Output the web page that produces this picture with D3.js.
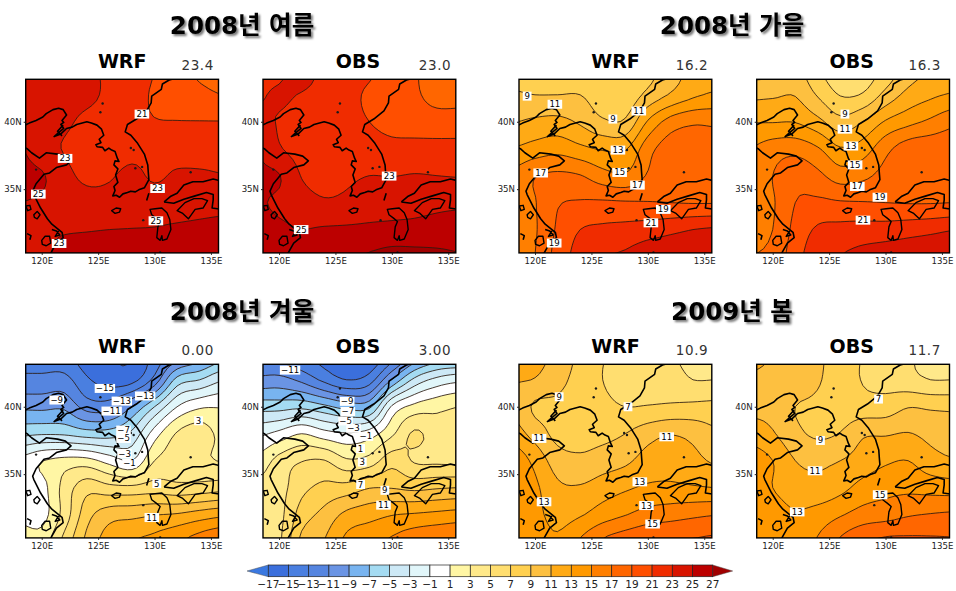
<!DOCTYPE html>
<html lang="ko">
<head>
<meta charset="utf-8">
<script src="https://cdn.jsdelivr.net/npm/d3@7"></script>
<style>
html,body{margin:0;padding:0;background:#fff}
svg{display:block}
text{font-family:"DejaVu Sans","Noto Sans CJK KR",sans-serif}
.season{font-weight:700;font-size:24.5px;fill:#000;filter:drop-shadow(2px 2px 1px #777)}
.source{font-weight:700;font-size:19px;fill:#000}
.mean{font-size:13.5px;fill:#333;letter-spacing:.6px}
.tick text{font-size:8.6px;fill:#222}
.clab{font-size:8.6px;fill:#000}
.bar text{font-size:10.5px;fill:#222}
</style>
</head>
<body>
<svg id="c" width="956" height="591"></svg>
<script>
// Grid: rows run north to south, columns west to east
const gridLons = [118,120,122,124,126,128,130,132,134,136];
const gridLats = [44,42,40,38,36,34,32,30];

const summerWRF = [
[23.8,23.7,23.5,23.3,22.7,22.0,21.0,19.8,18.6,18.4],
[23.9,23.8,23.6,23.4,22.6,21.6,20.8,20.1,19.5,19.0],
[23.8,23.6,23.3,22.6,22.2,21.6,21.1,21.05,21.05,21.05],
[25.2,23.7,22.9,22.2,22.0,22.3,22.3,22.0,22.0,22.0],
[25.5,25.2,23.6,22.6,22.8,23.5,22.7,23.3,23.3,23.1],
[25.0,24.8,24.2,23.8,23.7,24.0,24.0,24.0,24.1,24.2],
[24.8,24.8,24.85,24.9,25.0,25.05,25.1,25.3,25.5,25.7],
[24.6,24.6,25.6,25.9,26,26,26,26,26,26]];
const summerOBS = [
[22.5,22.6,24.0,22.5,22.0,21.4,20.0,19.2,18.0,18.0],
[22.8,23.2,22.9,22.3,21.6,20.7,20.1,19.3,18.4,18.4],
[23.5,22.9,22.4,22.0,21.6,21.0,20.5,20.0,19.8,19.8],
[24.9,23.2,22.3,21.9,21.8,21.7,21.5,21.7,21.7,21.7],
[25.3,25.1,22.9,22.0,22.6,23.0,22.95,23.1,23.0,22.9],
[25.2,24.7,24.0,23.3,23.5,24.0,24.2,24.3,24.5,24.6],
[25.6,25.3,25.0,25.2,25.3,25.4,25.5,25.6,25.8,26.0],
[25.8,25.6,25.6,26.2,26.8,27.2,27.7,27.6,27.4,27.1]];
const autumnWRF = [
[8.5,8.2,8,7.9,8,8,8.3,10,11.4,11.7],
[9.2,9.0,9.0,9.0,8.0,7.8,9.5,11.2,12.6,13.3],
[10.9,11.4,11.6,10.7,9.3,9.3,13.2,15.8,16.7,16.6],
[13.1,13.8,14.3,13.5,12.8,12.8,16.2,18,18,18],
[15.5,16.9,17.4,17.1,15.8,15.3,17.2,18.3,18.4,18.4],
[15.8,16.9,18.8,19.2,19.3,19.2,19.1,19.0,18.9,18.9],
[15.8,16.8,19.3,21,21.4,21.6,22,22.5,23,23.3],
[16,17,19.8,21.8,22.9,23.3,24.2,24.5,24.6,25]];
const autumnOBS = [
[8.0,8.3,9.5,7.2,5.5,5.6,7.5,9.8,11,11.4],
[10.5,10.7,10.9,8.8,6.9,7.2,9.6,11.6,12.6,13.2],
[12.9,12.9,12.9,11.6,9.7,11,13.2,14.4,15.4,16.5],
[15,16,16.3,15.2,13.2,14,16.4,18,18.3,18.2],
[15.6,17,18.3,17.5,16,16.5,17.7,18.2,18.3,18.3],
[16,16.8,19,19.4,19.2,19.1,19,18.9,18.9,19],
[16.5,17,19.6,21.3,21.6,21.8,21.9,22.2,22.5,22.9],
[17,17.5,20.2,22.2,23,23.6,24,24.3,24.6,25]];
const winterWRF = [
[-14,-14.5,-14.8,-16.3,-17,-17,-14.5,-12.5,-10.5,-8.3],
[-12.5,-12.4,-12.3,-14.7,-15.9,-15.7,-12.3,-6.3,-5,-3.2],
[-9.4,-9.5,-9.4,-11.8,-11.8,-9,-5,-1,0.7,0.9],
[-5.5,-5.2,-5.3,-6,-6,-4.5,0,3.2,4,2.4],
[-0.5,0.9,1.7,1.7,0.2,-1,3,3.9,3.4,2.9],
[0,0.3,3.7,6.2,5.6,5.5,6,5.6,5.8,6.2],
[0.3,0.2,3.8,8.2,10.1,10.4,10.9,11.2,11.9,12.5],
[2.5,2.0,5.6,9.5,12,13,13.6,14.7,16,17]];
const winterOBS = [
[-13.5,-14,-15,-16,-17,-17,-14.5,-11,-9,-8.8],
[-10.5,-10.3,-11.5,-13.5,-15,-14,-8.9,-4.5,-2.4,-1.5],
[-5.8,-5.8,-5.5,-6.5,-7.7,-7.5,-0.7,1.6,2.4,3],
[-1.5,-0.4,1,-0.2,-0.8,0,2.6,5.3,3.9,4],
[1.5,3.7,4.9,5.1,3.3,3.8,6.2,4.8,4.6,4.5],
[3.5,4.2,6.4,7.5,7.8,8.9,8.9,8.5,8.8,9],
[4,4.4,7.9,9.6,11.5,12.2,12.9,13.2,13.5,13.8],
[4,4.6,9.5,11,13.5,14.5,15.3,16.3,16.8,17.2]];
const springWRF = [
[11.8,11.7,10.5,8.5,7.1,6.4,6,5.1,4.5,4.5],
[11.1,10.9,9.6,8.3,7,6.4,6.2,5.9,5,5],
[10.8,8.7,8.6,8.2,7.5,7,7.1,7.3,7.5,7.6],
[12,10.2,8.4,8.3,8.4,9,10.2,10.9,10.4,9.4],
[14.5,12.4,10,9.4,10,10.6,11.8,12.1,11.6,10.7],
[14.8,13.4,11.4,11.2,12,12.7,13.3,13.4,13.2,13],
[14.8,13.6,12.3,12.8,14,14.9,15.8,16.2,16.6,16.9],
[14.5,14,13.3,15.2,17.2,18.2,18.9,19.1,19.2,19.4]];
const springOBS = [
[12.5,10.8,10,9.3,8.2,6.9,6.3,5.3,4.2,4.2],
[10.4,10.4,10.2,9.2,8,6.9,6.4,5.7,5,5],
[10.4,10.3,9,8.6,8,7.8,7.9,8.9,8.7,8.6],
[12.2,11.2,9.5,8.7,9.1,10.7,10.8,11.1,10.4,10],
[14,13,11,10.6,11,11.9,12.7,13,11.8,11.2],
[14,13,11.9,11.6,12.4,13.7,14.3,14.5,14.2,14],
[14.3,14,13.2,13.8,14.8,15.8,16.2,16.8,17.1,17.3],
[14.5,14.5,14,15.2,17.3,18.8,19.4,19.4,19.3,19.2]];

// Contour labels: [lon, lat, text]
const summerWRFLabels = [[128.88,40.57,"21"],[122.07,37.28,"23"],[119.7,34.63,"25"],[130.27,35.05,"23"],[130.12,32.65,"25"],[121.54,30.97,"23"]];
const summerOBSLabels = [[129.76,35.97,"23"],[121.96,32.0,"25"]];
const autumnWRFLabels = [[119.3,41.9,"9"],[121.76,41.3,"11"],[126.9,40.2,"9"],[129.2,40.8,"11"],[127.35,37.9,"13"],[127.5,36.24,"15"],[129.08,35.3,"17"],[120.5,36.2,"17"],[131.37,33.5,"19"],[130.27,32.5,"21"],[121.7,31,"19"]];
const autumnOBSLabels = [[126.4,40.57,"9"],[126.4,39.45,"11"],[126.93,38.2,"13"],[127.3,36.8,"15"],[127.5,35.2,"17"],[129.5,34.4,"19"],[128,32.7,"21"]];
const winterWRFLabels = [[121.33,40.5,"−9"],[125.6,41.36,"−15"],[127.1,40.42,"−13"],[129.17,40.8,"−13"],[126.2,39.68,"−11"],[127.25,38.27,"−7"],[127.25,37.65,"−5"],[127.34,36.53,"−3"],[127.78,35.8,"−1"],[133.9,38.96,"3"],[130.2,34.3,"5"],[129.76,31.78,"11"]];
const winterOBSLabels = [[120.98,42.72,"−11"],[126.04,40.4,"−9"],[126.1,39.65,"−7"],[125.9,38.95,"−5"],[126.6,38.4,"−3"],[127.7,37.8,"−1"],[127.23,36.9,"1"],[127.38,35.9,"3"],[127.23,34.23,"7"],[129.38,33.8,"9"],[129.26,32.7,"11"]];
const springWRFLabels = [[122.14,40.74,"9"],[128.24,40,"7"],[120.36,37.65,"11"],[131.67,37.77,"11"],[129.29,34.43,"13"],[120.8,32.95,"13"],[129.88,32.67,"13"],[130.42,31.3,"15"]];
const springOBSLabels = [[129.38,40.57,"7"],[124.23,37.5,"9"],[123.75,35.25,"11"],[122.17,32.2,"13"],[129.52,33.47,"15"]];

const levels = [-17,-15,-13,-11,-9,-7,-5,-3,-1,1,3,5,7,9,11,13,15,17,19,21,23,25,27];
const bandColors = ["#3a78e0","#3b6fdc","#4a7fe0","#5585e0","#6a94e4","#78b4f0","#a4dbf2","#cde9f6","#e1f6fa","#ffffff","#fff6a4","#ffe98a","#ffde70","#ffd050","#fdc040","#ffaa15","#ff9900","#ff7f00","#ff6600","#ff4f00","#f02c00","#d81400","#bc0000","#a00000"];
const seasonTitles = ["2008년 여름","2008년 가을","2008년 겨울","2009년 봄"];
const sourceNames = ["WRF","OBS"];
const meanLabels = ["23.4","23.0","16.2","16.3","0.00","3.00","10.9","11.7"];
const lonTicks = [120,125,130,135];
const latTicks = [35,40];

// Coastlines, [lon, lat]
const coastKorea = [[118.4,39.7],[118.9,39.9],[119.5,40.1],[120.1,40.35],[120.4,40.6],[121,40.9],[121.5,41],[121.9,40.9],[122.2,40.5],[121.8,40.1],[121.95,39.95],[121.7,39.8],[121.95,39.5],[121.5,39.2],[121.1,38.9],[121.7,39.1],[122.2,39.5],[122.7,39.6],[123.1,39.8],[124,40],[124.4,39.9],[124.9,39.75],[125.3,39.45],[125.5,39],[125.1,38.7],[125.25,38.45],[124.8,38.3],[124.9,38.15],[125.4,38.1],[125.6,37.85],[125.95,38.05],[126.2,37.9],[126.5,37.8],[126.7,37.3],[126.85,37.05],[126.5,37.1],[126.4,36.8],[126.75,36.5],[126.55,36.05],[126.75,35.5],[126.4,35.2],[126.5,34.9],[126.3,34.5],[126.6,34.55],[126.9,34.4],[127.2,34.65],[127.6,34.75],[127.9,34.85],[128.3,34.8],[128.6,34.95],[129.1,35.1],[129.5,35.7],[129.45,36.2],[129.4,36.8],[129.1,37.6],[128.5,38.4],[127.9,39],[127.4,39.25],[127.6,39.8],[128.4,40.2],[129.3,40.8],[129.7,41.4],[129.75,41.9],[130.6,42.4],[130.7,42.8],[131.3,43.1],[132.2,43.3]];
const coastChina = [[118.2,38.2],[118.7,38],[119.1,37.7],[119.8,37.3],[120.4,37.7],[121.4,37.6],[122.1,37.45],[122.6,37.1],[122.2,36.8],[121.3,36.6],[120.7,36.2],[120.2,36.1],[119.5,35.4],[119.2,34.85],[119.3,34.6],[119.9,33.6],[120.5,32.8],[120.9,32.4],[121.8,31.8],[121.9,31.4],[121.3,31],[120.9,30.4],[120.7,30.1]];
const kyushu = [[129.6,33.5],[130.05,33.55],[130.65,33.6],[131.1,33.25],[131.35,32.75],[131.45,32],[131.1,31.3],[130.7,31.2],[130.65,31.55],[130.5,31.2],[130.2,31.4],[130.3,32.2],[130.5,32.6],[130.15,32.85],[129.75,33.1]];
const honshuNorth = [[130.85,34.05],[131.4,34.45],[132,34.7],[132.6,35.3],[133.4,35.55],[134.3,35.55],[135.2,35.75],[135.9,35.6]];
const honshuSouth = [[130.85,34.05],[131.7,33.95],[132.6,34.25],[133.6,34.5],[134.6,34.75],[135.2,34.6],[135.2,34.2],[135.1,33.6],[135.9,33.5]];
const shikoku = [[132,33.4],[132.7,34],[133.5,34.3],[134.2,34.3],[134.7,34.15],[134.3,33.6],[133.6,33.5],[133,32.8],[132.5,33.2]];
const jeju = [[126.2,33.4],[126.6,33.6],[127,33.55],[126.9,33.3],[126.5,33.2]];
const lakeTai = [[120,31.2],[120.3,31.5],[120.7,31.5],[120.8,31],[120.4,30.8],[120.05,30.9]];
const lakeHongze = [[119.3,33.1],[119.6,33.35],[119.85,33.1],[119.6,32.8],[119.35,32.9]];
const lakeLeft = [[118.6,33.75],[118.95,33.8],[119.05,33.5],[118.75,33.4]];
const tsushima = [[129.3,34.15],[129.5,34.7]];
const yangtzeBars = [[120.9,32],[121.3,31.9],[121.6,31.6],[121.2,31.5],[121.5,31.9]];
const hangzhouBars = [[118.7,31.7],[119.05,31.55],[118.95,31.25]];
const bohaiBars = [[121.8,38.95],[121.4,39.3],[121.9,39.75]];
const islandDots = [[125.4,41.35],[125.2,40.7],[128.3,36.55],[128.9,36.65],[133.2,36.25],[119.5,36.45],[127.9,38.05],[128.15,37.9],[130.5,30.3],[129,32.7]];

// Table the drawing loop uses
const panelGrids = [summerWRF,summerOBS,autumnWRF,autumnOBS,winterWRF,winterOBS,springWRF,springOBS];
const panelLabels = [summerWRFLabels,summerOBSLabels,autumnWRFLabels,autumnOBSLabels,winterWRFLabels,winterOBSLabels,springWRFLabels,springOBSLabels];
const closedCoasts = [kyushu,shikoku,jeju,lakeTai,lakeHongze,lakeLeft];
const openCoasts = [coastKorea,coastChina,honshuNorth,honshuSouth,tsushima,yangtzeBars,hangzhouBars,bohaiBars];

const svg = d3.select("#c");
const panelLefts = [25.7,263,519,756.7];
const panelTops = [79.3,364.3];
const panelW = 192.8, panelH = 173.6;
const titleCenters = [242,732], titleYs = [26,312];
const lonDomain = [118.58,135.67], latDomain = [30.27,43.15];

// title rows
seasonTitles.forEach((t,i)=>{
  svg.append("text").attr("class","season").attr("text-anchor","middle")
    .attr("x",titleCenters[i%2]).attr("y",titleYs[Math.floor(i/2)]+8).text(t);
});

// Smooth contouring: the read grid is resampled (Catmull-Rom) only so that the isolines come out round
const fine = 5;
function cubic(a,b,c,d,t){return b+0.5*t*(c-a+t*(2*a-5*b+4*c-d+t*(3*(b-c)+d-a)));}
function refine(grid){
  const nr=grid.length,nc=grid[0].length,W=(nc-1)*fine+1,H=(nr-1)*fine+1,out=new Array(W*H);
  const at=(r,c)=>grid[Math.max(0,Math.min(nr-1,r))][Math.max(0,Math.min(nc-1,c))];
  for(let j=0;j<H;j++){const r=Math.floor(j/fine),tr=j/fine-r;
    for(let i=0;i<W;i++){const c=Math.floor(i/fine),tc=i/fine-c;
      const rows=[-1,0,1,2].map(k=>cubic(at(r+k,c-1),at(r+k,c),at(r+k,c+1),at(r+k,c+2),tc));
      out[j*W+i]=cubic(rows[0],rows[1],rows[2],rows[3],tr);
    }}
  return {values:out,W,H};
}
panelGrids.forEach((grid,pi)=>{
  const col = pi%4, row = Math.floor(pi/4);
  const left = panelLefts[col], top = panelTops[row];
  const x = d3.scaleLinear().domain(lonDomain).range([left,left+panelW]);
  const y = d3.scaleLinear().domain(latDomain).range([top+panelH,top]);
  const g = svg.append("g");
  const clipId = "clip"+pi;
  g.append("clipPath").attr("id",clipId).append("rect")
    .attr("x",left).attr("y",top).attr("width",panelW).attr("height",panelH);
  const inner = g.append("g").attr("clip-path",`url(#${clipId})`);
  inner.append("rect").attr("x",left).attr("y",top).attr("width",panelW).attr("height",panelH).attr("fill",bandColors[0]);

  const field = refine(grid);
  const contourGen = d3.contours().size([field.W,field.H]).smooth(true).thresholds(levels);
  const gx = d3.scaleLinear().domain([0.5,field.W-0.5]).range([gridLons[0],gridLons[gridLons.length-1]]);
  const gy = d3.scaleLinear().domain([0.5,field.H-0.5]).range([gridLats[0],gridLats[gridLats.length-1]]);
  const path = d3.line().curve(d3.curveLinearClosed);
  const toXY = p => [x(gx(p[0])), y(gy(p[1]))];
  const cs = contourGen(field.values);
  const ringPath = c => c.coordinates.map(poly=>poly.map(r=>path(r.slice(0,-1).map(toXY))).join("")).join("");
  inner.selectAll("path.band").data(cs).join("path").attr("class","band")
    .attr("d",ringPath).attr("fill",(c,i)=>bandColors[i+1]).attr("fill-rule","evenodd");
  inner.selectAll("path.iso").data(cs).join("path").attr("class","iso")
    .attr("d",ringPath).attr("fill","none").attr("stroke","#2a1a10").attr("stroke-width",0.85);

  const open = d3.line().x(d=>x(d[0])).y(d=>y(d[1]));
  inner.selectAll("path.coast").data(openCoasts).join("path").attr("class","coast")
    .attr("d",open).attr("fill","none").attr("stroke","#000").attr("stroke-width",1.6).attr("stroke-linejoin","round");
  const closed = d3.line().x(d=>x(d[0])).y(d=>y(d[1])).curve(d3.curveLinearClosed);
  inner.selectAll("path.isl").data(closedCoasts).join("path").attr("class","isl")
    .attr("d",closed).attr("fill","none").attr("stroke","#000").attr("stroke-width",1.4).attr("stroke-linejoin","round");
  inner.selectAll("circle.dot").data(islandDots).join("circle").attr("class","dot")
    .attr("cx",d=>x(d[0])).attr("cy",d=>y(d[1])).attr("r",1.2).attr("fill","#1a1a1a");

  // contour labels
  const labs = g.append("g").selectAll("g").data(panelLabels[pi]).join("g")
    .attr("transform",d=>`translate(${x(d[0])},${y(d[1])})`);
  labs.append("rect").attr("x",d=>-(d[2].length*2.9+1.5)).attr("y",-4.5)
    .attr("width",d=>2*(d[2].length*2.9+1.5)).attr("height",9).attr("fill","#fff");
  labs.append("text").attr("class","clab").attr("text-anchor","middle").attr("dy","0.35em").text(d=>d[2]);

  // frame
  g.append("rect").attr("x",left).attr("y",top).attr("width",panelW).attr("height",panelH)
    .attr("fill","none").attr("stroke","#000").attr("stroke-width",1.4);

  // axes
  const ax = g.append("g").attr("transform",`translate(0,${top+panelH})`)
    .call(d3.axisBottom(x).tickValues(lonTicks).tickFormat(d=>d+"E").tickSize(2).tickPadding(3));
  const ay = g.append("g").attr("transform",`translate(${left},0)`)
    .call(d3.axisLeft(y).tickValues(latTicks).tickFormat(d=>d+"N").tickSize(2).tickPadding(2));
  [ax,ay].forEach(a=>{a.select(".domain").remove();a.selectAll("line").attr("stroke","#222");});

  // headers
  g.append("text").attr("class","source").attr("text-anchor","middle")
    .attr("x",left+(pi%2?95:96.5)).attr("y",top-11).text(sourceNames[pi%2]);
  g.append("text").attr("class","mean").attr("text-anchor","middle")
    .attr("x",left+(col===3?168:(col===2?173:172))).attr("y",top-9).text(meanLabels[pi]);
});

// colour bar
const bar = svg.append("g").attr("class","bar");
const cx = d3.scaleLinear().domain([levels[0],levels[levels.length-1]]).range([268.3,712.7]);
const barTop = 565, barBottom = 576.7, barMid = 571;
const tipL = 247, tipR = 732.7;
bar.append("path").attr("d",d3.line()([[cx(levels[0]),barTop],[tipL,barMid],[cx(levels[0]),barBottom]])+"Z").attr("fill",bandColors[0]).attr("stroke","#555").attr("stroke-width",.5);
bar.append("path").attr("d",d3.line()([[cx(27),barTop],[tipR,barMid],[cx(27),barBottom]])+"Z").attr("fill",bandColors[bandColors.length-1]).attr("stroke","#555").attr("stroke-width",.5);
bar.selectAll("rect").data(levels.slice(0,-1)).join("rect")
  .attr("x",d=>cx(d)).attr("y",barTop).attr("width",d=>cx(d+2)-cx(d)).attr("height",barBottom-barTop)
  .attr("fill",(d,i)=>bandColors[i+1]).attr("stroke","#222").attr("stroke-width",.7);
bar.selectAll("text").data(levels).join("text").attr("text-anchor","middle")
  .attr("x",d=>cx(d)).attr("y",588).text(d=>d<0?"−"+Math.abs(d):d);
</script>
</body>
</html>
